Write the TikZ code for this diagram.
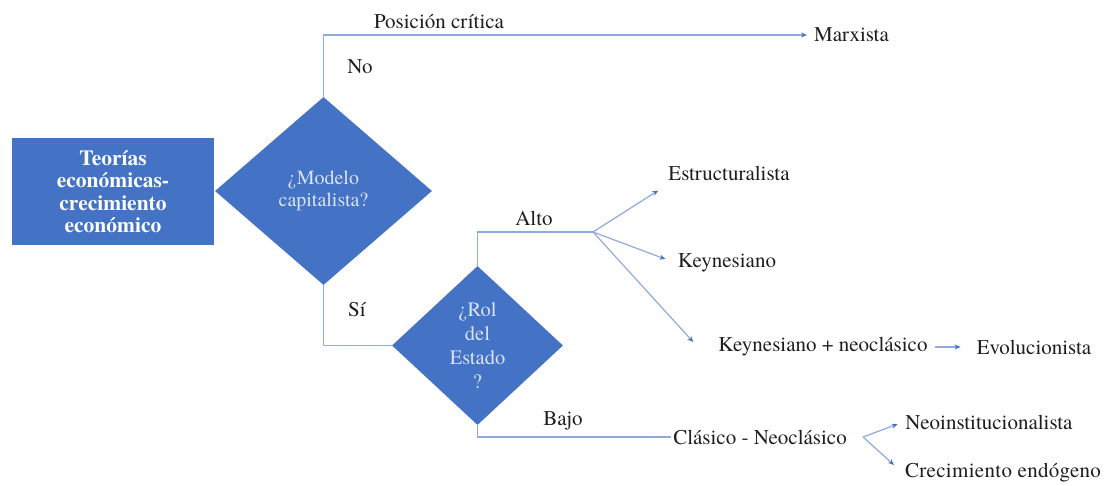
\documentclass[tikz,border=0pt]{standalone}
\usepackage{fontspec}
\setmainfont{texgyretermes}[Extension=.otf, UprightFont=*-regular, BoldFont=*-bold, ItalicFont=*-italic, BoldItalicFont=*-bolditalic]
\usetikzlibrary{shapes.geometric,arrows.meta}
\definecolor{boxblue}{HTML}{4472C4}
\definecolor{linkblue}{HTML}{8FAADC}
\definecolor{dtext}{HTML}{DAE3F3}
\definecolor{ink}{HTML}{1E1E1E}
\tikzset{
  lbl/.style={font=\fontsize{21}{23}\selectfont, inner sep=2pt, text=ink},
  rootbox/.style={fill=boxblue, text=white, font=\bfseries\fontsize{21.5}{22.5}\selectfont,
    minimum width=202pt, minimum height=107pt, align=center, inner sep=0pt},
  decision/.style={diamond, fill=boxblue, text=dtext, inner sep=0pt, align=center},
  conn/.style={draw=linkblue, line width=1.2pt},
  arr/.style={conn, -{Stealth[length=6pt,width=5pt,color=boxblue]}},
}
\begin{document}
\begin{tikzpicture}[x=1pt,y=-1pt]
\useasboundingbox (0,0) rectangle (1106,486);

% main shapes
\node[rootbox] (root) at (113,191.5) {Teorías\\económicas-\\crecimiento\\económico};
\node[decision, minimum width=217pt, minimum height=188pt,
      font=\fontsize{20}{21.5}\selectfont] (d1) at (323.5,191) {¿Modelo\\capitalista?};
\node[decision, minimum width=171pt, minimum height=159pt,
      font=\fontsize{20.5}{24}\selectfont] (d2) at (477.5,345.5) {¿Rol\\del\\Estado\\?};

% outcome texts
\node[lbl, anchor=west] (marx) at (812,35) {Marxista};
\node[lbl] (estr) at (729,173) {Estructuralista};
\node[lbl] (key) at (727,263) {Keynesiano};
\node[lbl] (kn) at (823,347) {Keynesiano + neoclásico};
\node[lbl] (evo) at (1034,347) {Evolucionista};
\node[lbl] (clas) at (760,437) {Clásico - Neoclásico};
\node[lbl] (neo) at (989,422) {Neoinstitucionalista};
\node[lbl, font=\fontsize{21}{23}\selectfont\addfontfeature{LetterSpace=1.5}] (crec) at (1003,473) {Crecimiento endógeno};

% branch labels
\node[lbl] (lpos) at (439,22) {Posición crítica};
\node[lbl] (lno) at (360,67) {No};
\node[lbl] (lsi) at (357,310) {Sí};
\node[lbl] (lalto) at (534,218) {Alto};
\node[lbl] (lbajo) at (563,421) {Bajo};

% branch points
\coordinate (alto) at (593,232);
\coordinate (cb) at (863,437);

% connectors
\draw[arr, shorten >=5pt] (d1.north) |- (marx.west);
\draw[conn] (d1.south) |- (d2.west);
\draw[conn] (d2.north) |- (alto);
\draw[arr] (alto) -- ([shift={(-8,8)}]estr.south west);
\draw[arr, shorten >=11pt] (alto) -- (key.west);
\draw[arr] (alto) -- ([shift={(-23,-5)}]kn.west);
\draw[arr, shorten <=5pt, shorten >=14pt] (kn.east) -- (evo.west);
\draw[conn] (d2.south) |- (clas.west);
\draw[arr, shorten >=6pt] (cb) -- (neo.west);
\draw[arr, shorten >=12pt] (cb) -- (crec.west);
\end{tikzpicture}
\end{document}
